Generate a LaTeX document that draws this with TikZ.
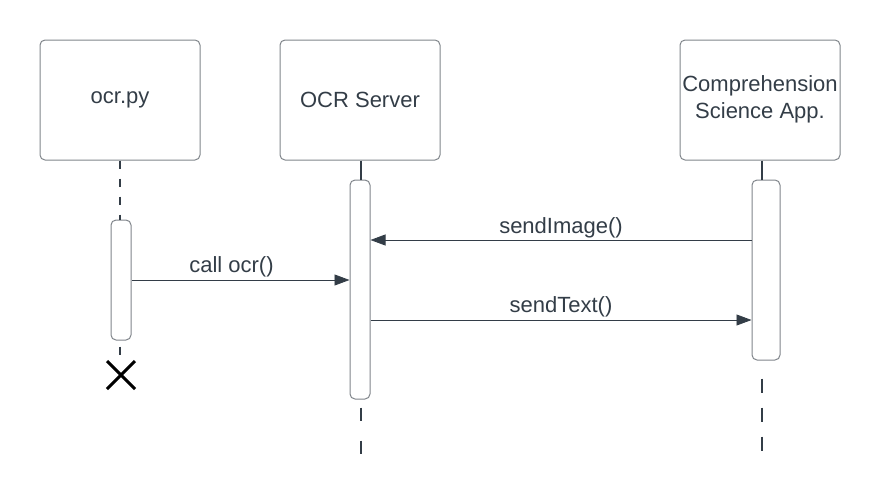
\documentclass[tikz,border=0pt]{standalone}
\usepackage{fontspec}
\setmainfont{Liberation Sans}
\usetikzlibrary{arrows.meta,shapes.misc}
\definecolor{inkclr}{HTML}{333D47}
\definecolor{boxclr}{HTML}{80858B}

\begin{document}
\begin{tikzpicture}[x=1pt, y=-1pt,
  actor/.style={draw=boxclr, line width=1pt, rounded corners=5pt, minimum width=160pt, minimum height=120pt, inner sep=0pt, align=center, text=inkclr, font=\fontsize{22}{27}\selectfont},
  actbar/.style={draw=boxclr, line width=1pt, rounded corners=5pt, fill=white, minimum width=20pt, inner sep=0pt},
  msg/.style={draw=inkclr, line width=0.8pt, -{Triangle[length=15pt,width=11pt]}},
  life/.style={draw=inkclr, line width=1.3pt},
  lifedash/.style={life, dash pattern=on 8pt off 10pt},
  lbl/.style={text=inkclr, font=\fontsize{22}{26}\selectfont, inner sep=0pt}]
\useasboundingbox (0,0) rectangle (880,501);

\node[actor] (ocrpy) at (120,100) {ocr.py};
\node[actor] (server) at (360,100) {OCR Server};
\node[actor] (app) at (760,100) {Comprehension\\Science App.\\[-30pt]\strut};

\node[actbar, minimum height=120pt] (ocrpyact) at (121,280) {};
\node[actbar, minimum height=219pt] (serveract) at (360,289.5) {};
\node[actbar, minimum height=180pt, minimum width=28pt] (appact) at (766,270) {};

\coordinate (ocrpyend) at (120,358);
\coordinate (serverend) at (361,460);
\coordinate (append) at (762,458);

% lifelines
\draw[lifedash] (ocrpy.south) -- (ocrpyact.north -| ocrpy.south);
\draw[lifedash] ([yshift=-6pt]ocrpyact.south -| ocrpy.south) -- (ocrpyend);
\draw[life] (server.south -| serverend) -- (serveract.north -| serverend);
\draw[life, dash pattern=on 13pt off 20pt] ([yshift=-8pt]serveract.south -| serverend) -- (serverend);
\draw[life] (app.south -| append) -- (appact.north -| append);
\draw[life, dash pattern=on 14pt off 15pt] ([yshift=-18pt]appact.south -| append) -- (append);

% destroy
\node[draw=black, line width=3pt, cross out, minimum size=25pt, inner sep=0pt] (ocrpyx) at (121,375) {};

% messages
\draw[msg] (ocrpyact.east |- 0,280) -- node[lbl, above=3pt, xshift=-9pt] {call ocr()} (serveract.west |- 0,280);
\draw[msg] (appact.west |- 0,240) -- node[lbl, above=2pt] {sendImage()} (serveract.east |- 0,240);
\draw[msg] (serveract.east |- 0,320) -- node[lbl, above=3pt] {sendText()} (appact.west |- 0,320);
\end{tikzpicture}
\end{document}
